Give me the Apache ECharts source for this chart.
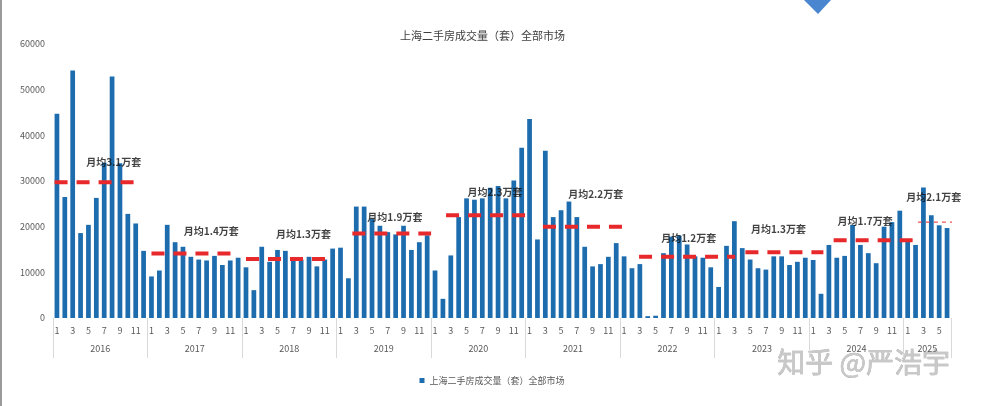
<!DOCTYPE html>
<html><head><meta charset="utf-8">
<script src="https://cdn.jsdelivr.net/npm/echarts@6/dist/echarts.min.js"></script>
<style>html,body{margin:0;padding:0;background:#fff}#c{width:984px;height:406px}</style>
</head><body><div id="c"></div>
<script>
const years = ['2016','2017','2018','2019','2020','2021','2022','2023','2024','2025'];
const monthsPerYear = [12,12,12,12,12,12,12,12,12,6];
const volume = [
  44700, 26500, 54200, 18600, 20400, 26300, 34000, 52900, 33900, 22800, 20700, 14700,
  9100, 10400, 20400, 16600, 15600, 13400, 12800, 12600, 13600, 11600, 12600, 13200,
  11100, 6100, 15600, 12300, 14900, 14700, 12900, 12800, 13400, 11300, 12800, 15200,
  15400, 8700, 24400, 24400, 21700, 20200, 18800, 18300, 20200, 14900, 16600, 18100,
  10400, 4200, 13700, 22100, 26200, 25900, 26200, 28500, 28900, 26200, 30100, 37300,
  43600, 17200, 36600, 22100, 23600, 25500, 22100, 15600, 11300, 11800, 13400, 16400,
  13500, 10900, 11800, 400, 500, 14200, 17800, 18000, 16100, 13500, 13200, 11100,
  6800, 15800, 21200, 15300, 12800, 10900, 10600, 13500, 13500, 11600, 12300, 13200,
  12700, 5300, 16000, 13200, 13600, 20400, 16000, 14200, 12000, 20000, 21000, 23500,
  17300, 16000, 28600, 22500, 20300, 19700
];
// average lines: [startMonthIndex, endMonthIndex, level]
const avgLines = [
  [-0.3, 10.4, 29700], [12.0, 22.5, 14100], [24.0, 34.6, 12900], [37.5, 47.5, 18500],
  [49.4, 59.7, 22500], [61.7, 72.2, 20000], [73.9, 86.1, 13400], [87.4, 97.3, 14400],
  [98.6, 108.7, 17000]
];
const avgLine2025 = [109.3, 115.4, 21000];
// annotations: [monthIndex, level, text]
const avgLabels = [
  [7.2, 34200, '月均3.1万套'], [19.6, 19100, '月均1.4万套'], [31.3, 18400, '月均1.3万套'],
  [42.9, 22100, '月均1.9万套'], [55.6, 27600, '月均2.3万套'], [68.4, 27000, '月均2.2万套'],
  [80.2, 17500, '月均1.2万套'], [91.6, 19500, '月均1.3万套'], [102.6, 21300, '月均1.7万套'],
  [111.3, 26500, '月均2.1万套']
];
const seriesName = '上海二手房成交量（套）全部市场';

const monthCats = [];
const yearMid = [], yearBounds = [-0.5];
let k = 0;
monthsPerYear.forEach((n, yi) => {
  for (let m = 1; m <= n; m++) monthCats.push(String(m));
  yearMid.push(k + (n - 1) / 2);
  k += n;
  yearBounds.push(k - 0.5);
});

const FONT = '"Noto Sans CJK SC", "Noto Sans", sans-serif';
const chart = echarts.init(document.getElementById('c'));
const series = [{
  name: seriesName, type: 'bar', data: volume, xAxisIndex: 0,
  barWidth: '60%', itemStyle: { color: '#1D6CAE' }
}];
avgLines.forEach((a) => series.push({
  type: 'line', xAxisIndex: 1, data: [[a[0], a[2]], [a[1], a[2]]], showSymbol: false, symbol: 'none',
  clip: false, silent: true,
  lineStyle: { color: '#E8292B', width: 4, type: [13, 9], cap: 'butt' }
}));
series.push({
  type: 'line', xAxisIndex: 1, data: [[avgLine2025[0], avgLine2025[2]], [avgLine2025[1], avgLine2025[2]]],
  showSymbol: false, symbol: 'none', clip: false, silent: true,
  lineStyle: { color: '#E8292B', width: 1, type: [4, 4] }
});
series.push({
  type: 'scatter', xAxisIndex: 1, symbolSize: 0, silent: true, clip: false,
  data: avgLabels.map(a => ({ value: [a[0], a[1]], name: a[2] })),
  label: { show: true, position: 'inside', formatter: p => p.name, color: '#111',
    fontWeight: 'bold', fontSize: 10, fontFamily: FONT }
});

chart.setOption({
  animation: false,
  textStyle: { fontFamily: FONT },
  title: { text: seriesName, left: 395, top: 25,
    textStyle: { fontSize: 11, fontWeight: 'normal', color: '#404040', fontFamily: FONT } },
  legend: { data: [seriesName], bottom: 16, left: 'center', icon: 'rect', itemWidth: 5, itemHeight: 5, itemGap: 4,
    textStyle: { fontSize: 9, color: '#595959', fontFamily: FONT } },
  grid: { left: 53, right: 33, top: 44, bottom: 88 },
  xAxis: [{
    type: 'category', data: monthCats, boundaryGap: true,
    axisLine: { show: false }, axisTick: { show: false },
    axisLabel: { interval: 1, fontSize: 9, color: '#595959', margin: 8, fontFamily: FONT }
  }, {
    type: 'value', min: -0.5, max: 113.5, position: 'bottom',
    axisLine: { show: false }, splitLine: { show: false },
    axisTick: { show: true, customValues: yearBounds, length: 40, lineStyle: { color: '#d9d9d9' } },
    axisLabel: { customValues: yearMid, margin: 26, fontSize: 9, color: '#595959', fontFamily: FONT,
      formatter: v => { const i = yearMid.findIndex(x => Math.abs(x - v) < 0.01); return i >= 0 ? years[i] : ''; } }
  }],
  yAxis: {
    type: 'value', min: 0, max: 60000, interval: 10000,
    axisLine: { show: false }, axisTick: { show: false }, splitLine: { show: false },
    axisLabel: { fontSize: 9, color: '#595959', margin: 8, fontFamily: FONT, formatter: v => String(v) }
  },
  graphic: [
    { type: 'rect', left: 0, top: 0, shape: { width: 2, height: 406 }, style: { fill: '#9a9a9a' }, silent: true },
    { type: 'polygon', shape: { points: [[804, 0], [831, 0], [818, 14]] }, style: { fill: '#4A86D0' }, silent: true },
    { type: 'text', left: 777, top: 348, silent: true,
      style: { text: '知乎 @严浩宇', fontSize: 28, fill: '#c8c8c8', stroke: '#a0a0a0', lineWidth: 0.5, fontFamily: FONT } }
  ],
  series: series
});
</script></body></html>
